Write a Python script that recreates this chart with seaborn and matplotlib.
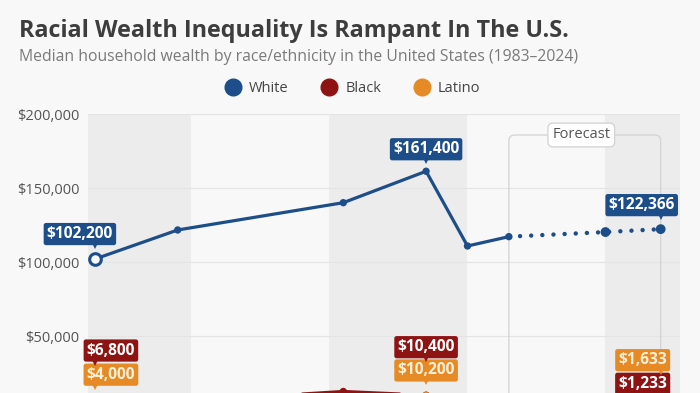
import matplotlib
matplotlib.use('Agg')
import matplotlib.pyplot as plt
import matplotlib.transforms as mtransforms
from matplotlib.lines import Line2D
from matplotlib.patches import FancyBboxPatch
import seaborn as sns
import pandas as pd

# data (median household wealth, USD)
years = [1983, 1989, 2001, 2007, 2010, 2013, 2020, 2024]
white = [102200, 121800, 140200, 161400, 111000, 117300, 120400, 122366]
black = [6800, 6000, 12900, 10400, 5500, 2000, 1500, 1233]
latino = [4000, 3500, 6500, 10200, 5000, 3000, 2000, 1633]
groups = ['White', 'Black', 'Latino']
forecast_start = 2013
y_ticks = [50000, 100000, 150000, 200000]

title = 'Racial Wealth Inequality Is Rampant In The U.S.'
subtitle = 'Median household wealth by race/ethnicity in the United States (1983\u20132024)'

colors = {'White': '#1d4e89', 'Black': '#8e1414', 'Latino': '#e68a25'}
bg = '#f8f8f8'
band = '#ececec'

df = pd.DataFrame({
    'year': years * 3,
    'wealth': white + black + latino,
    'group': ['White'] * len(years) + ['Black'] * len(years) + ['Latino'] * len(years),
})
hist = df[df['year'] <= forecast_start]
fcst = df[df['year'] >= forecast_start]

sns.set_theme(style='white')
plt.rcParams['font.family'] = ['Open Sans', 'DejaVu Sans']

fig = plt.figure(figsize=(7, 3.93), dpi=100, facecolor=bg)
ax = fig.add_axes([88 / 700, -0.0448, 592 / 700, 0.7547])
ax.set_facecolor(bg)

# alternating decade bands
for x0, x1 in [(1982.5, 1990), (2000, 2010), (2020, 2025.4)]:
    ax.axvspan(x0, x1, color=band, zorder=0, lw=0)

order = ['Latino', 'Black', 'White']
sns.lineplot(data=hist, x='year', y='wealth', hue='group', hue_order=order,
             palette=colors, lw=2.3, legend=False, ax=ax, zorder=3)
sns.lineplot(data=fcst, x='year', y='wealth', hue='group', hue_order=order,
             palette=colors, lw=3.2, legend=False, ax=ax, zorder=3,
             linestyle=(0, (0.01, 2.5)), dash_capstyle='round')

# markers
mid = df[(df['year'] > years[0]) & (df['year'] <= forecast_start)]
late = df[df['year'] > forecast_start]
first = df[df['year'] == years[0]]
sns.scatterplot(data=mid, x='year', y='wealth', hue='group', hue_order=order,
                palette=colors, s=28, linewidth=0, legend=False, ax=ax, zorder=4)
sns.scatterplot(data=late, x='year', y='wealth', hue='group', hue_order=order,
                palette=colors, s=50, linewidth=0, legend=False, ax=ax, zorder=4)
for g in order:
    r = first[first['group'] == g]
    ax.scatter(r['year'], r['wealth'], s=70, facecolor=bg, edgecolor=colors[g],
               linewidth=2.2, zorder=5)

ax.set_xlim(1982.5, 2025.4)
ax.set_ylim(0, 200000)
ax.set_yticks(y_ticks)
ax.set_yticklabels([f'${v:,.0f}' for v in y_ticks])
ax.yaxis.grid(True, color='#e4e4e4', lw=0.8, zorder=0.5)
ax.set_axisbelow(True)
ax.tick_params(axis='y', length=0, pad=6, labelsize=10.5, labelcolor='#555555')
ax.set_xticks([])
ax.set_xlabel('')
ax.set_ylabel('')
for s in ax.spines.values():
    s.set_visible(False)

# forecast frame
x_left = ax.transData.transform((forecast_start, 0))[0]
x_right = ax.transData.transform((years[-1], 0))[0]
y_top = 393 - 135
frame = FancyBboxPatch((x_left, -40), x_right - x_left, y_top + 40,
                       boxstyle='round,pad=0,rounding_size=6',
                       transform=mtransforms.IdentityTransform(),
                       fc='none', ec='#d2d2d2', lw=0.9, zorder=1, clip_on=False)
ax.add_patch(frame)
fig.text((x_left + x_right) / 2 / 700 - 0.005, y_top / 393, 'Forecast', ha='center', va='center',
         fontsize=10.5, color='#555555',
         bbox=dict(boxstyle='round,pad=0.3,rounding_size=0.35', fc='white', ec='#d2d2d2', lw=0.9))


def tag(x, y, text, color, dy, dx=0, tcolor='white'):
    ax.annotate(text, xy=(x, y), xytext=(dx, dy), textcoords='offset pixels',
                ha='center', va='center', fontsize=11.2, fontweight='bold', color=tcolor,
                bbox=dict(boxstyle='round,pad=0.2,rounding_size=0.15', fc=color, ec='none'),
                zorder=6, annotation_clip=False)
    tr = mtransforms.offset_copy(ax.transData, fig=fig, x=0, y=dy - 12, units='dots')
    ax.plot([x], [y], marker='v', ms=5, color=color, mew=0, transform=tr, zorder=6,
            clip_on=False)


tag(years[0], white[0], '$102,200', colors['White'], 25, dx=-15)
tag(years[3], white[3], '$161,400', colors['White'], 22)
tag(years[-1], white[-1], '$122,366', colors['White'], 24, dx=-19)
tag(years[0], latino[0], '$4,000', colors['Latino'], 30, dx=16, tcolor='#fdf0d8')
tag(years[0], black[0], '$6,800', colors['Black'], 50, dx=16)
tag(years[3], latino[3], '$10,200', colors['Latino'], 25, tcolor='#fdf0d8')
tag(years[3], black[3], '$10,400', colors['Black'], 48)
tag(years[-1], black[-1], '$1,233', colors['Black'], 25, dx=-18)
tag(years[-1], latino[-1], '$1,633', colors['Latino'], 48, dx=-18, tcolor='#fdf0d8')

# legend
handles = [Line2D([], [], marker='o', ls='', ms=12, color=colors[g]) for g in groups]
fig.legend(handles, groups, loc='center', bbox_to_anchor=(353 / 700, 1 - 89 / 393), ncol=3,
           frameon=False, fontsize=10.5, labelcolor='#444444', handletextpad=0.6,
           columnspacing=2.3, handlelength=1.0)

fig.text(19 / 700, 1 - 31 / 393, title, fontsize=16.8, fontweight='bold', color='#3d3d3d',
         va='center', ha='left')
fig.text(19 / 700, 1 - 57 / 393, subtitle, fontsize=11.3, color='#7a7a7a', va='center', ha='left')

fig.savefig('out.png', dpi=100, facecolor=bg)
